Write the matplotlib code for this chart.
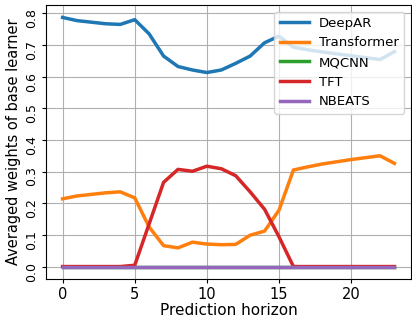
import numpy as np
import matplotlib
matplotlib.use("Agg")
import matplotlib.pyplot as plt

# prediction horizon steps
horizon = list(range(24))

# averaged weights per base learner
deepar = [0.787, 0.777, 0.772, 0.767, 0.765, 0.780, 0.735, 0.665, 0.632, 0.621,
          0.613, 0.621, 0.642, 0.665, 0.707, 0.728, 0.693, 0.685, 0.678, 0.672,
          0.666, 0.660, 0.654, 0.679]
transformer = [0.214, 0.223, 0.228, 0.233, 0.236, 0.217, 0.125, 0.066, 0.059, 0.077,
               0.071, 0.069, 0.070, 0.099, 0.112, 0.178, 0.305, 0.315, 0.324, 0.331,
               0.338, 0.344, 0.350, 0.326]
mqcnn = [0.0] * 24
tft = [0.0, 0.0, 0.0, 0.0, 0.0, 0.004, 0.135, 0.266, 0.307, 0.301,
       0.317, 0.309, 0.287, 0.236, 0.181, 0.094, 0.0, 0.0, 0.0, 0.0,
       0.0, 0.0, 0.0, 0.0]
nbeats = [0.0] * 24

fig = plt.figure(figsize=(4.12, 3.2), dpi=100)
ax = fig.add_subplot()
fig.subplots_adjust(left=46/412, right=411/412, bottom=1-279/320, top=1-5/320)

ax.plot(horizon, deepar, lw=2.5, label="DeepAR")
ax.plot(horizon, transformer, lw=2.5, label="Transformer")
ax.plot(horizon, mqcnn, lw=2.5, label="MQCNN")
ax.plot(horizon, tft, lw=2.5, label="TFT")
ax.plot(horizon, nbeats, lw=2.5, label="NBEATS")

ax.grid(True)
ax.tick_params(length=3, pad=2.5)
ax.tick_params(axis="x", labelsize=10.5)
ax.tick_params(axis="y", labelsize=9, labelrotation=90)
ax.set_xlabel("Prediction horizon", fontsize=11, labelpad=1)
ax.set_ylabel("Averaged weights of base learner", fontsize=10.5, labelpad=3)
ax.legend(loc="upper right", fontsize=9.5, handlelength=2.2)

plt.savefig("out.png", dpi=100)
